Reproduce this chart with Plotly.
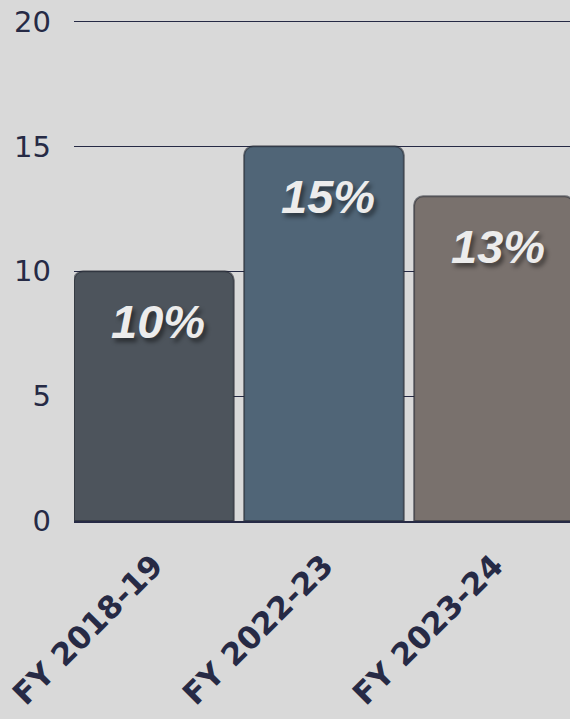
import plotly.graph_objects as go

categories = ["FY 2018-19", "FY 2022-23", "FY 2023-24"]
values = [10, 15, 13]
labels = ["10%", "15%", "13%"]
bar_colors = ["#4d545c", "#506577", "#79716d"]
y_ticks = [0, 5, 10, 15, 20]

navy = "#262a45"

fig = go.Figure()
fig.add_trace(go.Bar(
    x=categories,
    y=values,
    width=0.94,
    marker=dict(color=bar_colors, line=dict(color="rgba(35,38,48,0.55)", width=2)),
    hoverinfo="skip",
))

for c, v, t in zip(categories, values, labels):
    fig.add_annotation(
        x=c, y=v, text=t, showarrow=False, yanchor="top", yshift=-22, xshift=4,
        font=dict(family="Liberation Sans", size=47, color="#ececec",
                  weight="bold", style="italic",
                  shadow="3px 4px 4px rgba(0,0,0,0.45)"),
    )

fig.update_layout(
    width=570, height=719,
    margin=dict(l=74, r=0, t=14, b=198),
    paper_bgcolor="#d9d9d9",
    plot_bgcolor="rgba(0,0,0,0)",
    barcornerradius=9,
    showlegend=False,
    xaxis=dict(
        range=[-0.47, 2.447],
        tickangle=-45,
        tickfont=dict(family="DejaVu Sans", size=31, color=navy, weight="bold"),
        showgrid=False,
        showline=True, linecolor=navy, linewidth=2,
        ticks="", ticklabelstandoff=12,
        automargin=False,
    ),
    yaxis=dict(
        range=[0, 20.3],
        tickvals=y_ticks,
        tickfont=dict(family="DejaVu Sans", size=29, color=navy),
        showgrid=True, gridcolor=navy, gridwidth=1.3,
        zeroline=False, showline=False,
        ticks="", ticklabelstandoff=22,
        automargin=False,
    ),
)

fig.write_html(
    "out.html",
    config={"displayModeBar": False},
    post_script="document.body.style.margin='0';document.body.style.background='#d9d9d9';",
)
